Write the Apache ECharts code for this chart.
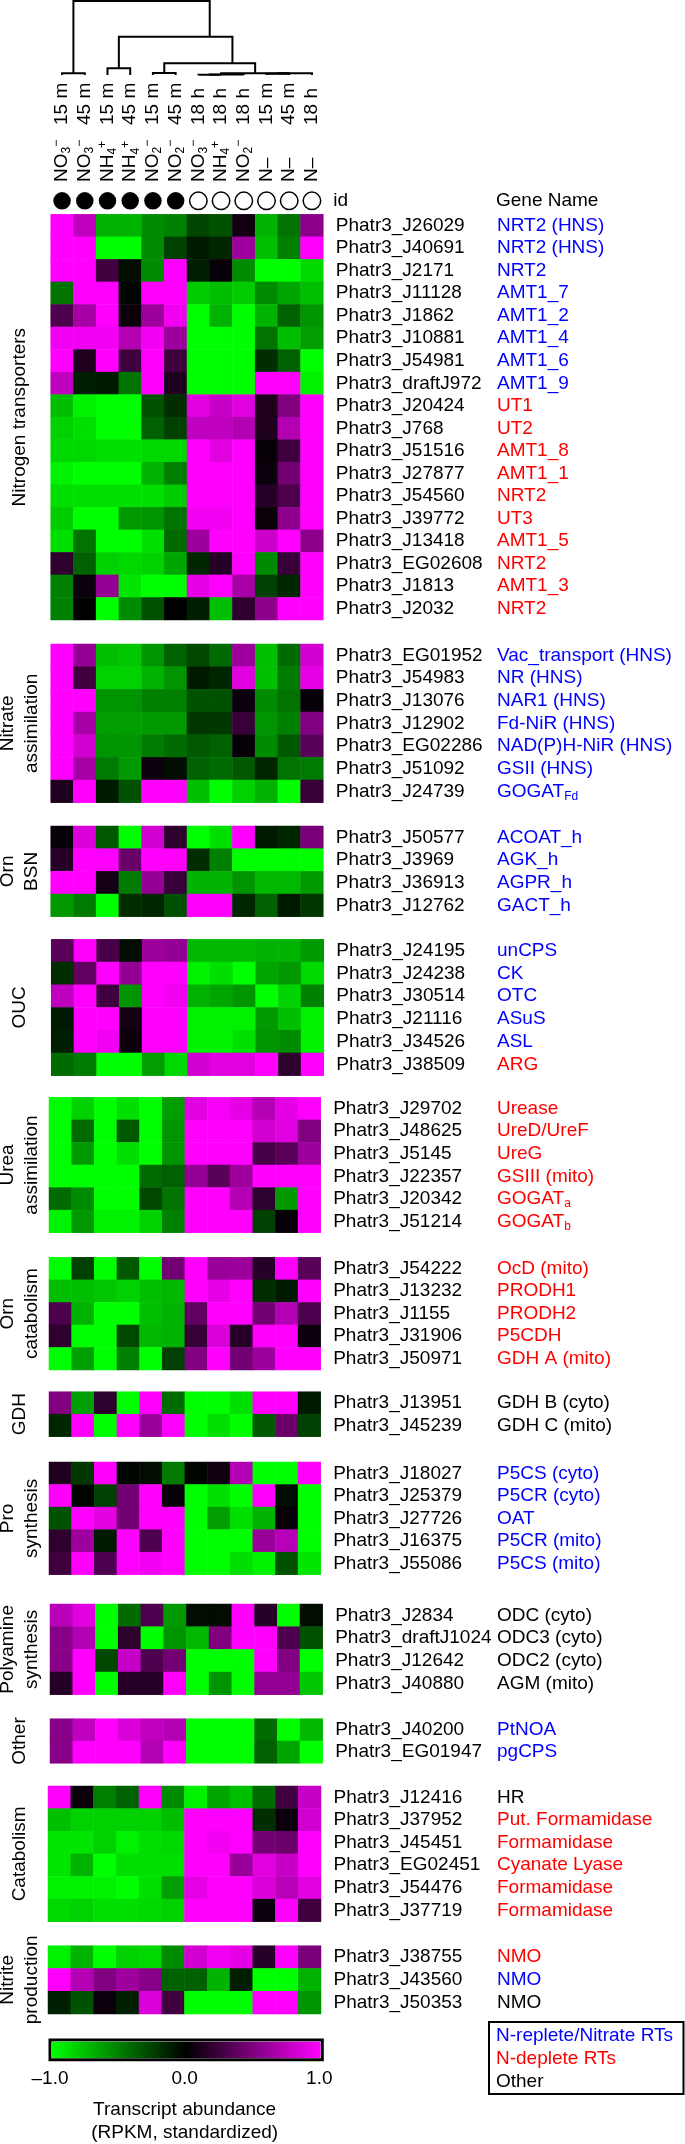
<!DOCTYPE html>
<html><head><meta charset="utf-8">
<script src="https://cdn.jsdelivr.net/npm/echarts@6/dist/echarts.min.js"></script>
<style>html,body{margin:0;padding:0;background:#fff}#c{width:685px;height:2144px}</style>
</head><body><div id="c"></div>
<script>
// ---------------- DATA ----------------
const colTimes = ['15 m','45 m','15 m','45 m','15 m','45 m','18 h','18 h','18 h','15 m','45 m','18 h'];
const colNitrogen = ['NO3-','NO3-','NH4+','NH4+','NO2-','NO2-','NO3-','NH4+','NO2-','N\u2013','N\u2013','N\u2013'];
const colReplete = [1,1,1,1,1,1,0,0,0,0,0,0];
// dendrogram merges: [firstLeaf, lastLeafOfLeftChild, lastLeaf, leftChildHeight, rightChildHeight, mergeHeight]
const dendroMerges = [
  [0,0,1, 0,0, 1.7],
  [2,2,3, 0,0, 6.7],
  [4,4,5, 0,0, 2.0],
  [6,6,7, 0,0, 0.3],
  [6,7,8, 0.3,0, 0.6],
  [9,9,10, 0,0, 1.2],
  [9,10,11, 1.2,0, 1.7],
  [6,8,11, 0.6,1.7, 1.7],
  [4,5,11, 2.0,1.7, 11.7],
  [2,3,11, 6.7,11.7, 38.3],
  [0,1,11, 1.7,38.3, 74]
];

const ntIds = ['Phatr3_J26029','Phatr3_J40691','Phatr3_J2171','Phatr3_J11128','Phatr3_J1862','Phatr3_J10881','Phatr3_J54981','Phatr3_draftJ972','Phatr3_J20424','Phatr3_J768','Phatr3_J51516','Phatr3_J27877','Phatr3_J54560','Phatr3_J39772','Phatr3_J13418','Phatr3_EG02608','Phatr3_J1813','Phatr3_J2032'];
const ntNames = ['NRT2 (HNS)','NRT2 (HNS)','NRT2','AMT1_7','AMT1_2','AMT1_4','AMT1_6','AMT1_9','UT1','UT2','AMT1_8','AMT1_1','NRT2','UT3','AMT1_5','NRT2','AMT1_3','NRT2'];
const ntClass = ['b','b','b','b','b','b','b','b','r','r','r','r','r','r','r','r','r','r'];
const ntValues = [
  [1.0,0.75,-0.7,-0.7,-0.55,-0.5,-0.27,-0.32,0.07,-0.7,-0.45,0.55],
  [1.0,1.0,-1.0,-1.0,-0.55,-0.25,-0.1,-0.15,0.62,-0.75,-0.5,1.0],
  [1.0,1.0,0.25,-0.05,-0.55,1.0,-0.12,0.03,-0.55,-1.0,-1.0,-0.85],
  [-0.45,1.0,1.0,-0.02,1.0,1.0,-0.8,-0.75,-0.8,-0.55,-0.65,-0.75],
  [0.3,0.65,1.0,0.05,0.62,0.95,-1.0,-0.7,-1.0,-0.7,-0.38,-0.58],
  [0.95,0.95,0.95,0.7,0.95,0.62,-1.0,-1.0,-1.0,-0.45,-0.75,-0.62],
  [1.0,0.12,1.0,0.25,1.0,0.25,-1.0,-1.0,-1.0,-0.18,-0.38,-1.0],
  [0.75,-0.12,-0.1,-0.45,1.0,0.12,-1.0,-1.0,-1.0,1.0,1.0,-0.95],
  [-0.75,-0.95,-1.0,-1.0,-0.32,-0.18,0.88,0.78,0.88,0.12,0.5,1.0],
  [-0.82,-0.88,-1.0,-1.0,-0.38,-0.25,0.75,0.75,0.7,0.12,0.7,1.0],
  [-0.85,-0.85,-0.88,-0.88,-0.85,-0.85,1.0,0.88,1.0,0.03,0.25,1.0],
  [-0.95,-1.0,-1.0,-1.0,-0.7,-0.5,1.0,1.0,1.0,0.05,0.45,1.0],
  [-0.88,-0.88,-0.88,-0.88,-0.88,-0.8,1.0,1.0,1.0,0.15,0.3,1.0],
  [-0.8,-1.0,-1.0,-0.6,-0.58,-0.45,0.95,0.95,1.0,0.04,0.55,1.0],
  [-0.88,-0.45,-1.0,-1.0,-0.88,-0.42,0.62,1.0,1.0,0.8,1.0,0.55],
  [0.18,-0.38,-0.82,-0.85,-0.82,-0.65,-0.15,0.15,1.0,-0.55,0.22,1.0],
  [-0.5,0.05,0.58,-0.9,-1.0,-1.0,0.9,1.0,0.65,-0.25,-0.15,1.0],
  [-0.5,0.0,-1.0,-0.55,-0.32,0.0,-0.12,-0.75,0.18,0.55,1.0,1.0]
];

const naIds = ['Phatr3_EG01952','Phatr3_J54983','Phatr3_J13076','Phatr3_J12902','Phatr3_EG02286','Phatr3_J51092','Phatr3_J24739'];
const naNames = ['Vac_transport (HNS)','NR (HNS)','NAR1 (HNS)','Fd-NiR (HNS)','NAD(P)H-NiR (HNS)','GSII (HNS)','GOGAT|Fd'];
const naClass = ['b','b','b','b','b','b','b'];
const naValues = [
  [1.0,0.58,-0.75,-0.78,-0.58,-0.38,-0.28,-0.42,0.62,-0.75,-0.42,0.82],
  [1.0,0.25,-0.82,-0.82,-0.7,-0.58,-0.1,-0.15,0.88,-0.75,-0.48,0.9],
  [1.0,1.0,-0.58,-0.58,-0.5,-0.5,-0.32,-0.32,0.05,-0.55,-0.45,0.03],
  [1.0,0.65,-0.62,-0.62,-0.6,-0.6,-0.22,-0.22,0.22,-0.58,-0.5,0.5],
  [1.0,0.82,-0.58,-0.58,-0.48,-0.42,-0.35,-0.38,0.03,-0.55,-0.35,0.35],
  [1.0,0.65,-0.48,-0.6,0.05,-0.05,-0.38,-0.42,-0.35,-0.15,-0.45,-0.48],
  [0.12,1.0,-0.1,-0.32,1.0,1.0,-0.75,-1.0,-0.82,-0.7,-1.0,0.22]
];

const bsnIds = ['Phatr3_J50577','Phatr3_J3969','Phatr3_J36913','Phatr3_J12762'];
const bsnNames = ['ACOAT_h','AGK_h','AGPR_h','GACT_h'];
const bsnClass = ['b','b','b','b'];
const bsnValues = [
  [0.03,0.85,-0.35,-1.0,0.82,0.18,-1.0,-0.88,1.0,-0.1,-0.15,0.48],
  [0.15,1.0,1.0,0.42,1.0,1.0,-0.18,-0.5,-1.0,-1.0,-1.0,-1.0],
  [1.0,1.0,0.08,-0.48,0.58,0.22,-0.7,-0.7,-0.58,-0.72,-0.72,-0.6],
  [-0.6,-0.48,-1.0,-0.18,-0.15,-0.32,1.0,1.0,-0.15,-0.38,-0.1,-0.22]
];

const oucIds = ['Phatr3_J24195','Phatr3_J24238','Phatr3_J30514','Phatr3_J21116','Phatr3_J34526','Phatr3_J38509'];
const oucNames = ['unCPS','CK','OTC','ASuS','ASL','ARG'];
const oucClass = ['b','b','b','b','b','r'];
const oucValues = [
  [0.35,1.0,0.28,-0.05,0.62,0.58,-0.72,-0.72,-0.72,-0.7,-0.7,-0.6],
  [-0.18,0.38,1.0,0.58,1.0,1.0,-0.95,-0.88,-1.0,-0.65,-0.6,-0.85],
  [0.75,1.0,0.25,-0.58,1.0,0.95,-0.7,-0.65,-0.58,-1.0,-0.82,-0.5],
  [-0.1,1.0,1.0,0.08,1.0,1.0,-0.95,-0.95,-0.95,-0.6,-0.75,-0.95],
  [-0.12,1.0,0.95,0.05,1.0,1.0,-0.95,-0.95,-0.88,-0.58,-0.55,-0.95],
  [-0.42,-0.48,-1.0,-1.0,-0.62,-0.85,0.82,0.88,0.88,1.0,0.18,1.0]
];

const ureaIds = ['Phatr3_J29702','Phatr3_J48625','Phatr3_J5145','Phatr3_J22357','Phatr3_J20342','Phatr3_J51214'];
const ureaNames = ['Urease','UreD/UreF','UreG','GSIII (mito)','GOGAT|a','GOGAT|b'];
const ureaClass = ['r','r','r','r','r','r'];
const ureaValues = [
  [-1.0,-0.82,-1.0,-0.88,-1.0,-0.62,0.88,0.97,0.9,0.7,0.9,1.0],
  [-1.0,-0.42,-1.0,-0.35,-1.0,-0.58,1.0,1.0,1.0,0.82,0.88,0.5],
  [-1.0,-0.6,-1.0,-0.88,-1.0,-0.58,1.0,1.0,1.0,0.28,0.35,0.62],
  [-1.0,-1.0,-1.0,-1.0,-0.42,-0.38,0.58,0.35,0.62,1.0,1.0,1.0],
  [-0.42,-0.55,-1.0,-1.0,-0.28,-0.45,1.0,1.0,0.7,0.18,-0.6,1.0],
  [-0.95,-0.6,-0.95,-0.95,-0.82,-0.5,1.0,1.0,1.0,-0.25,0.03,1.0]
];

const ocIds = ['Phatr3_J54222','Phatr3_J13232','Phatr3_J1155','Phatr3_J31906','Phatr3_J50971'];
const ocNames = ['OcD (mito)','PRODH1','PRODH2','P5CDH','GDH A (mito)'];
const ocClass = ['r','r','r','r','r'];
const ocValues = [
  [-1.0,-0.25,-1.0,-0.35,-1.0,0.45,1.0,0.6,0.62,0.15,1.0,0.35],
  [-0.75,-0.75,-0.78,-0.82,-0.75,-0.72,1.0,0.9,1.0,-0.18,-0.1,1.0],
  [0.3,-0.7,-1.0,-1.0,-0.75,-0.7,0.38,1.0,1.0,0.45,0.7,0.3],
  [0.18,-1.0,-1.0,-0.28,-0.72,-0.7,0.22,0.85,0.15,1.0,1.0,0.05],
  [-1.0,-0.62,-1.0,-0.5,-1.0,-0.25,0.5,1.0,0.45,0.62,1.0,1.0]
];

const gdhIds = ['Phatr3_J13951','Phatr3_J45239'];
const gdhNames = ['GDH B (cyto)','GDH C (mito)'];
const gdhClass = ['k','k'];
const gdhValues = [
  [0.5,-0.62,0.18,-1.0,1.0,-0.42,-1.0,-1.0,-0.88,1.0,1.0,-0.1],
  [-0.15,1.0,-1.0,1.0,0.6,1.0,-1.0,-0.88,-1.0,-0.35,0.42,-0.25]
];

const proIds = ['Phatr3_J18027','Phatr3_J25379','Phatr3_J27726','Phatr3_J16375','Phatr3_J55086'];
const proNames = ['P5CS (cyto)','P5CR (cyto)','OAT','P5CR (mito)','P5CS (mito)'];
const proClass = ['b','b','b','b','b'];
const proValues = [
  [0.12,-0.22,1.0,-0.02,-0.05,-0.48,-0.02,0.06,0.7,-1.0,-1.0,1.0],
  [1.0,-0.02,-0.25,0.45,1.0,0.03,-1.0,-0.88,-1.0,1.0,-0.05,-1.0],
  [-0.32,1.0,0.88,0.45,1.0,1.0,-1.0,-0.62,-0.88,-0.7,0.03,-1.0],
  [0.18,0.62,-0.1,1.0,0.3,1.0,-1.0,-1.0,-1.0,0.6,0.72,-1.0],
  [0.25,1.0,0.3,1.0,0.95,1.0,-1.0,-1.0,-0.88,-0.95,-0.32,-0.9]
];

const polyIds = ['Phatr3_J2834','Phatr3_draftJ1024','Phatr3_J12642','Phatr3_J40880'];
const polyNames = ['ODC (cyto)','ODC3 (cyto)','ODC2 (cyto)','AGM (mito)'];
const polyClass = ['k','k','k','k'];
const polyValues = [
  [0.72,0.88,-1.0,-0.42,0.3,-0.6,-0.05,-0.05,1.0,0.15,-1.0,-0.05],
  [0.53,0.7,-1.0,0.18,-1.0,-0.58,-0.72,0.5,1.0,1.0,0.3,-0.32],
  [0.53,1.0,-0.28,0.78,0.3,0.45,-1.0,-1.0,-1.0,1.0,0.5,-1.0],
  [0.15,1.0,-1.0,0.15,0.15,1.0,-1.0,-0.58,-1.0,0.58,0.58,-0.78]
];

const otherIds = ['Phatr3_J40200','Phatr3_EG01947'];
const otherNames = ['PtNOA','pgCPS'];
const otherClass = ['b','b'];
const otherValues = [
  [0.53,0.75,1.0,0.85,0.75,0.7,-1.0,-1.0,-1.0,-0.42,-1.0,-0.72],
  [0.53,1.0,1.0,1.0,0.7,1.0,-1.0,-1.0,-1.0,-0.38,-0.65,-1.0]
];

const catIds = ['Phatr3_J12416','Phatr3_J37952','Phatr3_J45451','Phatr3_EG02451','Phatr3_J54476','Phatr3_J37719'];
const catNames = ['HR','Put. Formamidase','Formamidase','Cyanate Lyase','Formamidase','Formamidase'];
const catClass = ['k','r','r','r','r','r'];
const catValues = [
  [1.0,0.05,-0.5,-0.38,1.0,-0.55,-0.95,-0.65,-0.75,-0.42,0.25,0.78],
  [-0.75,-0.82,-0.82,-0.82,-0.82,-0.75,1.0,1.0,1.0,-0.18,0.05,0.82],
  [-0.9,-0.9,-0.82,-0.95,-0.88,-0.85,1.0,0.95,1.0,0.45,0.42,1.0],
  [-0.9,-0.7,-1.0,-0.88,-0.88,-0.88,1.0,1.0,0.6,0.88,0.78,1.0],
  [-0.95,-0.95,-0.95,-1.0,-0.88,-0.62,0.9,1.0,1.0,0.85,0.72,0.88],
  [-0.85,-0.82,-0.88,-0.88,-0.85,-0.82,1.0,1.0,1.0,0.05,1.0,0.25]
];

const nitIds = ['Phatr3_J38755','Phatr3_J43560','Phatr3_J50353'];
const nitNames = ['NMO','NMO','NMO'];
const nitClass = ['r','b','k'];
const nitValues = [
  [-0.95,-0.7,-1.0,-0.82,-0.85,-0.55,0.82,0.95,0.9,0.15,1.0,0.48],
  [1.0,0.7,0.5,0.62,0.53,-0.38,-0.38,-0.7,-0.12,-1.0,-1.0,-0.7],
  [-0.12,-0.32,0.05,-0.12,0.85,0.25,-1.0,-1.0,-1.0,1.0,1.0,-0.58]
];

const groupLabels = ['Nitrogen transporters','Nitrate\nassimilation','Orn\nBSN','OUC','Urea\nassimilation','Orn\ncatabolism','GDH','Pro\nsynthesis','Polyamine\nsynthesis','Other','Catabolism','Nitrite\nproduction'];
const legendItems = ['N-replete/Nitrate RTs','N-deplete RTs','Other'];
const colorbarTicks = [-1, 0, 1];
const colorbarTitle = 'Transcript abundance\n(RPKM, standardized)';

// ---------------- LAYOUT ----------------
const FONT = '"Liberation Sans", Arial, Helvetica, sans-serif';
const FS = 19;
const CLASS_COLOR = {b:'#0000ff', r:'#ff0000', k:'#000000'};
// [left, right, top, bottom] in px
const blockBox = [
  [50.7,323.3,214.3,620],
  [50.7,323.3,644,802.7],
  [50.7,323.3,826,916.7],
  [51.2,323.8,939.3,1075.7],
  [49,320.7,1097.3,1232.7],
  [49,320.7,1257.3,1370],
  [49,320.7,1391.7,1436.7],
  [49,320.7,1462,1574.7],
  [50,322.7,1604,1694.7],
  [50,322.7,1718.7,1763.3],
  [48,321,1786,1921.7],
  [48,321,1945.7,2014]
];
const NAME_X = 497;
const ID_GAP = 12.5;

const blocks = [
  [ntIds, ntNames, ntClass, ntValues],
  [naIds, naNames, naClass, naValues],
  [bsnIds, bsnNames, bsnClass, bsnValues],
  [oucIds, oucNames, oucClass, oucValues],
  [ureaIds, ureaNames, ureaClass, ureaValues],
  [ocIds, ocNames, ocClass, ocValues],
  [gdhIds, gdhNames, gdhClass, gdhValues],
  [proIds, proNames, proClass, proValues],
  [polyIds, polyNames, polyClass, polyValues],
  [otherIds, otherNames, otherClass, otherValues],
  [catIds, catNames, catClass, catValues],
  [nitIds, nitNames, nitClass, nitValues]
];

const W = 685, H = 2144;
const hidden = {axisLine:{show:false}, axisTick:{show:false}, splitLine:{show:false}};
function g(l, r, t, h){ return {left:l, width:r-l, top:t, height:h, containLabel:false, outerBoundsMode:'none', show:false}; }

const nameRich = {};
['b','r','k'].forEach(c => {
  nameRich[c] = {color:CLASS_COLOR[c], fontSize:FS, fontFamily:FONT, lineHeight:22};
  nameRich[c+'s'] = {color:CLASS_COLOR[c], fontSize:12, fontFamily:FONT, lineHeight:6, verticalAlign:'bottom'};
});
function richName(name, cls){
  const p = name.split('|');
  let s = '{' + cls + '|' + p[0] + '}';
  if (p[1]) s += '{' + cls + 's|' + p[1] + '}';
  return s;
}
function chemRich(s){
  const m = s.match(/^([A-Z]+)(\d)([+-])$/);
  if (!m) return '{n|' + s + '}';
  return '{n|' + m[1] + '}{sb|' + m[2] + '}{sp|' + (m[3] === '-' ? '\u2212' : '+') + '}';
}

const grids = [], xAxes = [], yAxes = [], series = [], graphics = [];
const B0 = blockBox[0];
// grid 0: dendrogram
grids.push(g(B0[0], B0[1], 1, 74));
xAxes.push(Object.assign({type:'value', gridIndex:0, min:-0.5, max:11.5, axisLabel:{show:false}}, hidden));
yAxes.push(Object.assign({type:'value', gridIndex:0, min:0, max:74, axisLabel:{show:false}}, hidden));
series.push({
  type:'custom', xAxisIndex:0, yAxisIndex:0, silent:true, animation:false,
  data: dendroMerges, encode:{x:[0,2], y:5},
  renderItem(params, api){
    const a = api.value(0), m = api.value(1), b = api.value(2);
    const hl = api.value(3), hr = api.value(4), h = api.value(5);
    const xl = (a + m) / 2, xr = (m + 1 + b) / 2;
    return {type:'polyline', shape:{points:[api.coord([xl,hl]), api.coord([xl,h]), api.coord([xr,h]), api.coord([xr,hr])]},
      style:{stroke:'#000', lineWidth:2, fill:'none'}};
  }
});
// grid 1: header row with circles and column labels
const HEAD_TOP = 189.5, HEAD_H = 22.7;
grids.push(g(B0[0], B0[1], HEAD_TOP, HEAD_H));
xAxes.push(Object.assign({type:'category', gridIndex:1, position:'top', offset:HEAD_TOP-182, data:colNitrogen,
  axisLabel:{interval:0, rotate:-90, margin:0, formatter:(v,i)=>chemRich(colNitrogen[i]),
    rich:{n:{fontSize:FS, fontFamily:FONT, color:'#000', lineHeight:22},
          sb:{fontSize:12, fontFamily:FONT, color:'#000', lineHeight:6, verticalAlign:'bottom'},
          sp:{fontSize:12, fontFamily:FONT, color:'#000', lineHeight:6, verticalAlign:'top'}}}}, hidden));
xAxes.push(Object.assign({type:'category', gridIndex:1, position:'top', offset:HEAD_TOP-125, data:colTimes,
  axisLabel:{interval:0, rotate:-90, margin:0, fontSize:FS, fontFamily:FONT, color:'#000', formatter:(v,i)=>colTimes[i]}}, hidden));
yAxes.push(Object.assign({type:'category', gridIndex:1, position:'right', data:['id'],
  axisLabel:{margin:10, fontSize:FS, fontFamily:FONT, color:'#000'}}, hidden));
yAxes.push(Object.assign({type:'category', gridIndex:1, position:'right', data:['Gene Name'],
  axisLabel:{margin:NAME_X - 1 - B0[1], fontSize:FS, fontFamily:FONT, color:'#000'}}, hidden));
series.push({
  type:'scatter', xAxisIndex:1, yAxisIndex:1, silent:true, animation:false, symbol:'circle', symbolSize:17.5,
  data: colReplete.map((f,i)=>({value:[i,0], itemStyle:{color: f ? '#000' : '#fff', opacity:1, borderColor:'#000', borderWidth: f ? 0 : 1.5}}))
});

// heatmap blocks
const heatIdx = [];
blocks.forEach((blk, k) => {
  const [ids, names, cls, vals] = blk;
  const [l, r, t, b] = blockBox[k];
  const gi = grids.length;
  grids.push(g(l, r, t, b - t));
  const xi = xAxes.length;
  xAxes.push(Object.assign({type:'category', gridIndex:gi, data:colTimes.map((c,i)=>String(i)), axisLabel:{show:false}}, hidden));
  const yi = yAxes.length;
  yAxes.push(Object.assign({type:'category', gridIndex:gi, position:'right', inverse:true, data:ids,
    axisLabel:{interval:0, margin:ID_GAP, fontSize:FS, fontFamily:FONT, color:'#000'}}, hidden));
  yAxes.push(Object.assign({type:'category', gridIndex:gi, position:'right', inverse:true, data:ids,
    axisLabel:{interval:0, margin:NAME_X - r, fontSize:FS, fontFamily:FONT, rich:nameRich,
      formatter:(v,i)=>richName(names[ids.indexOf(v)], cls[ids.indexOf(v)])}}, hidden));
  const data = [];
  vals.forEach((row, ri) => row.forEach((v, ci) => data.push([ci, ri, v])));
  heatIdx.push(series.length);
  series.push({type:'heatmap', xAxisIndex:xi, yAxisIndex:yi, data, silent:true, animation:false,
    emphasis:{disabled:true}, itemStyle:{borderWidth:0}, progressive:0});
  graphics.push({type:'text', x:20, y:(t+b)/2, rotation:Math.PI/2, silent:true,
    style:{text:groupLabels[k], fontSize:FS, fontFamily:FONT, fill:'#000', align:'center', verticalAlign:'middle', lineHeight:24}});
});

// colorbar axis
const CB_L = 50, CB_R = 319.3, CB_T = 2040, CB_B = 2056.7;
const cbG = grids.length;
grids.push(g(CB_L, CB_R, CB_T, CB_B - CB_T));
xAxes.push(Object.assign({type:'value', gridIndex:cbG, min:colorbarTicks[0], max:colorbarTicks[colorbarTicks.length-1], interval:1,
  axisLabel:{margin:13, fontSize:FS, fontFamily:FONT, color:'#000', formatter:v=> (v<0?'\u2013':'') + Math.abs(v).toFixed(1)},
  name:colorbarTitle, nameLocation:'middle', nameGap:42, nameTextStyle:{fontSize:FS, fontFamily:FONT, color:'#000', lineHeight:23}}, hidden));
yAxes.push(Object.assign({type:'value', gridIndex:cbG, axisLabel:{show:false}}, hidden));

// legend box
graphics.push({type:'rect', shape:{x:489, y:2022, width:194.5, height:72}, style:{fill:'#fff', stroke:'#000', lineWidth:2}, silent:true});
const legendColors = ['#0000ff','#ff0000','#000000'];
legendItems.forEach((t,i)=>graphics.push({type:'text', x:496, y:2035.7 + i*23.2, silent:true,
  style:{text:t, fontSize:FS, fontFamily:FONT, fill:legendColors[i], verticalAlign:'middle', align:'left'}}));

const chart = echarts.init(document.getElementById('c'), null, {width:W, height:H});
chart.setOption({
  animation:false,
  backgroundColor:'#fff',
  grid:grids, xAxis:xAxes, yAxis:yAxes, series,
  visualMap:{type:'continuous', min:-1, max:1, orient:'horizontal', seriesIndex:heatIdx, calculable:false, showLabel:false,
    left:CB_L - 1.5, top:CB_T - 1.5, itemWidth:CB_B - CB_T, itemHeight:CB_R - CB_L, padding:1.5,
    borderColor:'#000', borderWidth:3, backgroundColor:'transparent', text:null, hoverLink:false,
    inRange:{color:['#00ff00','#000000','#ff00ff']}},
  graphic:graphics
});
</script></body></html>
